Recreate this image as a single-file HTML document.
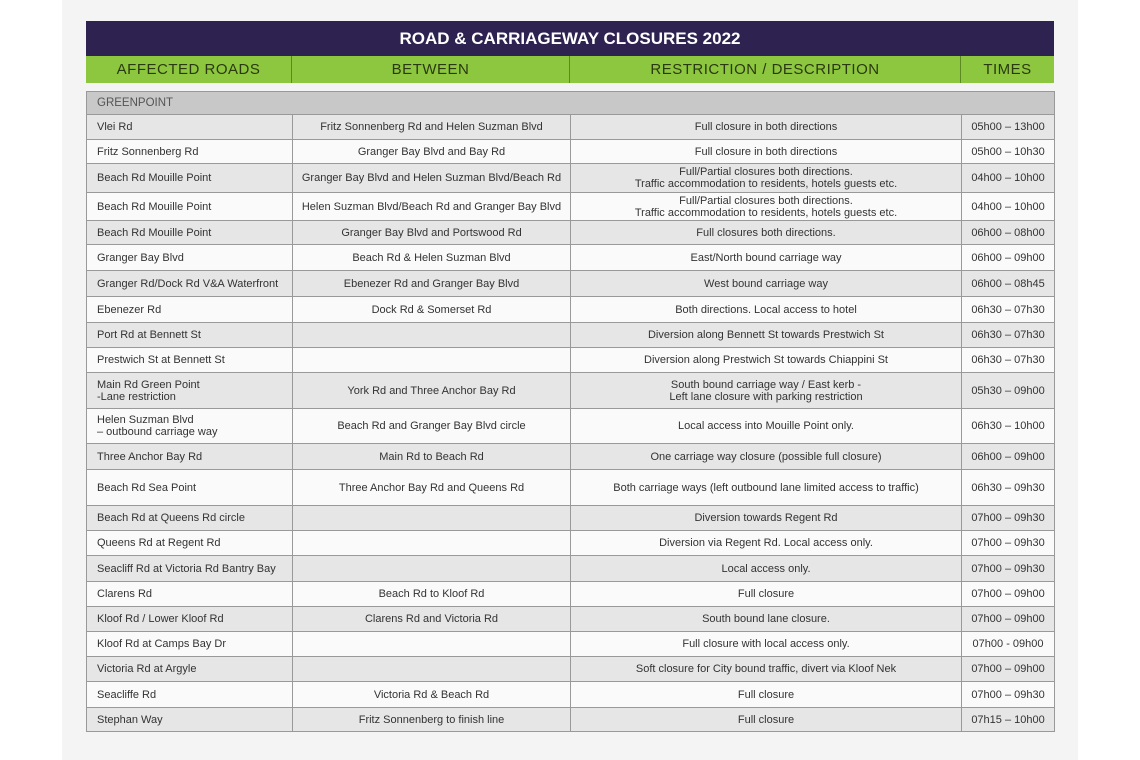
<!DOCTYPE html>
<html><head><style>
body{margin:0;width:1140px;height:760px;background:#fff;font-family:"Liberation Sans",sans-serif;position:relative;overflow:hidden}
.panel{position:absolute;left:62px;top:0;width:1016px;height:760px;background:#f4f4f4}
.title{position:absolute;left:86px;top:21px;width:968px;height:35px;background:#2e2250;color:#fff;font-weight:bold;font-size:17px;text-align:center;line-height:36px}
.hdr{position:absolute;left:86px;top:56px;width:968px;height:27px;background:#8dc63f;display:flex}
.hdr div{color:#2a3a10;font-size:15px;text-align:center;line-height:28px;border-right:1px solid #5a8a20;box-sizing:border-box;letter-spacing:.5px}
table{position:absolute;left:86px;top:91px;border-collapse:collapse;width:968px;table-layout:fixed;font-size:11px;color:#333}
td{border:1px solid #999;padding:0 0 0 10px;line-height:12px}
td.c{text-align:center;padding:0}
tr:nth-child(even) td{background:#e6e6e6}
tr:nth-child(odd) td{background:#fafafa}
tr.g td{background:#c8c8c8;color:#555;font-size:11.5px}
</style></head><body>
<div class="panel"></div>
<div class="title">ROAD &amp; CARRIAGEWAY CLOSURES 2022</div>
<div class="hdr"><div style="width:206px">AFFECTED ROADS</div><div style="width:278px">BETWEEN</div><div style="width:391px">RESTRICTION / DESCRIPTION</div><div style="width:93px;border:none">TIMES</div></div>
<table>
<colgroup><col style="width:206px"><col style="width:278px"><col style="width:391px"><col style="width:93px"></colgroup>
<tr class="g" style="height:23px"><td colspan="4">GREENPOINT</td></tr>
<tr style="height:25px"><td>Vlei Rd</td><td class="c">Fritz Sonnenberg Rd and Helen Suzman Blvd</td><td class="c">Full closure in both directions</td><td class="c">05h00 – 13h00</td></tr>
<tr style="height:24px"><td>Fritz Sonnenberg Rd</td><td class="c">Granger Bay Blvd and Bay Rd</td><td class="c">Full closure in both directions</td><td class="c">05h00 – 10h30</td></tr>
<tr style="height:29px"><td>Beach Rd Mouille Point</td><td class="c">Granger Bay Blvd and Helen Suzman Blvd/Beach Rd</td><td class="c">Full/Partial closures both directions.<br>Traffic accommodation to residents, hotels guests etc.</td><td class="c">04h00 – 10h00</td></tr>
<tr style="height:28px"><td>Beach Rd Mouille Point</td><td class="c">Helen Suzman Blvd/Beach Rd and Granger Bay Blvd</td><td class="c">Full/Partial closures both directions.<br>Traffic accommodation to residents, hotels guests etc.</td><td class="c">04h00 – 10h00</td></tr>
<tr style="height:24px"><td>Beach Rd Mouille Point</td><td class="c">Granger Bay Blvd and Portswood Rd</td><td class="c">Full closures both directions.</td><td class="c">06h00 – 08h00</td></tr>
<tr style="height:26px"><td>Granger Bay Blvd</td><td class="c">Beach Rd &amp; Helen Suzman Blvd</td><td class="c">East/North bound carriage way</td><td class="c">06h00 – 09h00</td></tr>
<tr style="height:26px"><td>Granger Rd/Dock Rd V&amp;A Waterfront</td><td class="c">Ebenezer Rd and Granger Bay Blvd</td><td class="c">West bound carriage way</td><td class="c">06h00 – 08h45</td></tr>
<tr style="height:26px"><td>Ebenezer Rd</td><td class="c">Dock Rd &amp; Somerset Rd</td><td class="c">Both directions. Local access to hotel</td><td class="c">06h30 – 07h30</td></tr>
<tr style="height:25px"><td>Port Rd at Bennett St</td><td class="c"></td><td class="c">Diversion along Bennett St towards Prestwich St</td><td class="c">06h30 – 07h30</td></tr>
<tr style="height:25px"><td>Prestwich St at Bennett St</td><td class="c"></td><td class="c">Diversion along Prestwich St towards Chiappini St</td><td class="c">06h30 – 07h30</td></tr>
<tr style="height:36px"><td>Main Rd Green Point<br>-Lane restriction</td><td class="c">York Rd and Three Anchor Bay Rd</td><td class="c">South bound carriage way / East kerb -<br>Left lane closure with parking restriction</td><td class="c">05h30 – 09h00</td></tr>
<tr style="height:35px"><td>Helen Suzman Blvd<br>– outbound carriage way</td><td class="c">Beach Rd and Granger Bay Blvd circle</td><td class="c">Local access into Mouille Point only.</td><td class="c">06h30 – 10h00</td></tr>
<tr style="height:26px"><td>Three Anchor Bay Rd</td><td class="c">Main Rd to Beach Rd</td><td class="c">One carriage way closure (possible full closure)</td><td class="c">06h00 – 09h00</td></tr>
<tr style="height:36px"><td>Beach Rd Sea Point</td><td class="c">Three Anchor Bay Rd and Queens Rd</td><td class="c">Both carriage ways (left outbound lane limited access to traffic)</td><td class="c">06h30 – 09h30</td></tr>
<tr style="height:25px"><td>Beach Rd at Queens Rd circle</td><td class="c"></td><td class="c">Diversion towards Regent Rd</td><td class="c">07h00 – 09h30</td></tr>
<tr style="height:25px"><td>Queens Rd at Regent Rd</td><td class="c"></td><td class="c">Diversion via Regent Rd. Local access only.</td><td class="c">07h00 – 09h30</td></tr>
<tr style="height:26px"><td>Seacliff Rd at Victoria Rd Bantry Bay</td><td class="c"></td><td class="c">Local access only.</td><td class="c">07h00 – 09h30</td></tr>
<tr style="height:25px"><td>Clarens Rd</td><td class="c">Beach Rd to Kloof Rd</td><td class="c">Full closure</td><td class="c">07h00 – 09h00</td></tr>
<tr style="height:25px"><td>Kloof Rd / Lower Kloof Rd</td><td class="c">Clarens Rd and Victoria Rd</td><td class="c">South bound lane closure.</td><td class="c">07h00 – 09h00</td></tr>
<tr style="height:25px"><td>Kloof Rd at Camps Bay Dr</td><td class="c"></td><td class="c">Full closure with local access only.</td><td class="c">07h00 - 09h00</td></tr>
<tr style="height:25px"><td>Victoria Rd at Argyle</td><td class="c"></td><td class="c">Soft closure for City bound traffic, divert via Kloof Nek</td><td class="c">07h00 – 09h00</td></tr>
<tr style="height:26px"><td>Seacliffe Rd</td><td class="c">Victoria Rd &amp; Beach Rd</td><td class="c">Full closure</td><td class="c">07h00 – 09h30</td></tr>
<tr style="height:24px"><td>Stephan Way</td><td class="c">Fritz Sonnenberg to finish line</td><td class="c">Full closure</td><td class="c">07h15 – 10h00</td></tr>
</table>
</body></html>
